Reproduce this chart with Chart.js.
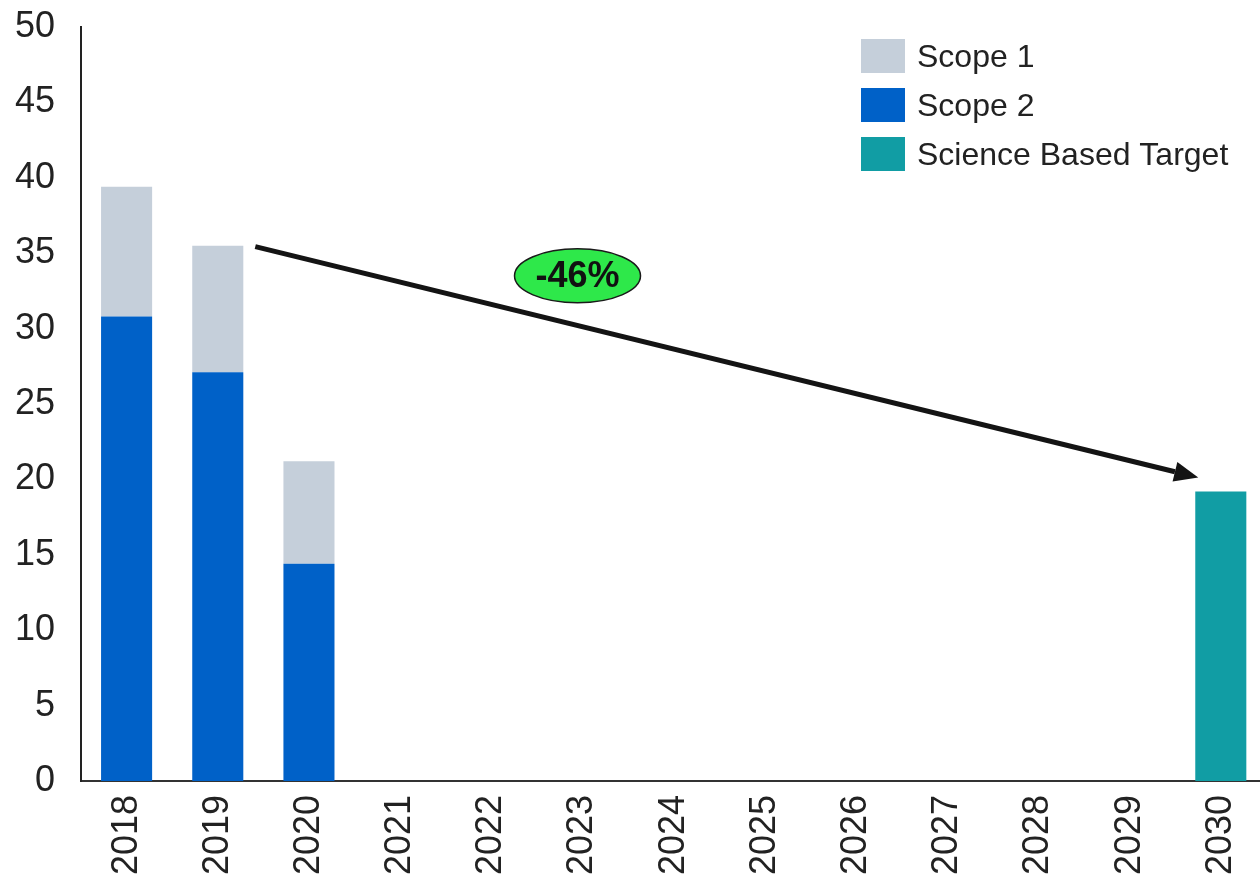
<!DOCTYPE html>
<html>
<head>
<meta charset="utf-8">
<title>Scope 1 &amp; 2 emissions</title>
<script src="https://cdn.jsdelivr.net/npm/chart.js@4"></script>
<style>
  html, body { margin:0; padding:0; background:#fff; overflow:hidden }
  #wrap { width:1260px; height:879px; overflow:hidden }
  canvas { display:block }
</style>
</head>
<body>
<div id="wrap"><canvas id="chart" width="1278" height="879"></canvas></div>
<script>
const years = ['2018','2019','2020','2021','2022','2023','2024','2025','2026','2027','2028','2029','2030'];
const scope1 = [8.6, 8.4, 6.8, null, null, null, null, null, null, null, null, null, null];
const scope2 = [30.8, 27.1, 14.4, null, null, null, null, null, null, null, null, null, null];
const target = [null, null, null, null, null, null, null, null, null, null, null, null, 19.2];
const yTicks = [0, 5, 10, 15, 20, 25, 30, 35, 40, 45, 50];
const reductionLabel = '-46%';

const FONT = '"Liberation Sans", Arial, sans-serif';
const INK = '#222';

// legend drawn as a vertical list in the top-right corner
const cornerLegend = {
  id: 'cornerLegend',
  afterDraw(chart) {
    const ctx = chart.ctx;
    const items = [chart.data.datasets[1], chart.data.datasets[0], chart.data.datasets[2]];
    ctx.save();
    ctx.font = '32px ' + FONT;
    ctx.textBaseline = 'middle';
    items.forEach((ds, i) => {
      const y = 39 + i * 49;
      ctx.fillStyle = ds.backgroundColor;
      ctx.fillRect(861, y, 44, 34);
      ctx.fillStyle = INK;
      ctx.fillText(ds.label, 917, y + 19);
    });
    ctx.restore();
  }
};

// arrow from the 2019 total down to the target bar, with the % badge
const reductionArrow = {
  id: 'reductionArrow',
  afterDatasetsDraw(chart) {
    const ctx = chart.ctx;
    const ys = chart.scales.y, xs = chart.scales.x;
    const from = chart.getDatasetMeta(0).data[1];
    const to = chart.getDatasetMeta(2).data[12];
    const x0 = from.x + from.width / 2 + 12;
    const y0 = ys.getPixelForValue(scope1[1] + scope2[1]) + 1;
    const x1 = to.x - to.width / 2 + 3;
    const y1 = ys.getPixelForValue(target[12]) - 14;
    const ang = Math.atan2(y1 - y0, x1 - x0);
    const headLen = 24, headHalf = 10;
    const bx = x1 - headLen * Math.cos(ang), by = y1 - headLen * Math.sin(ang);

    ctx.save();
    ctx.strokeStyle = '#141414';
    ctx.fillStyle = '#141414';
    ctx.lineWidth = 5;
    ctx.beginPath();
    ctx.moveTo(x0, y0);
    ctx.lineTo(bx, by);
    ctx.stroke();
    ctx.beginPath();
    ctx.moveTo(x1, y1);
    ctx.lineTo(bx + headHalf * Math.sin(ang), by - headHalf * Math.cos(ang));
    ctx.lineTo(bx - headHalf * Math.sin(ang), by + headHalf * Math.cos(ang));
    ctx.closePath();
    ctx.fill();

    // green badge
    const cx = xs.getPixelForValue(5) - 5;
    const cy = ys.getPixelForValue(33.5);
    ctx.beginPath();
    ctx.ellipse(cx, cy, 63, 27, 0, 0, Math.PI * 2);
    ctx.fillStyle = '#2EE84A';
    ctx.fill();
    ctx.lineWidth = 1.5;
    ctx.strokeStyle = '#1a1a1a';
    ctx.stroke();
    ctx.fillStyle = '#111';
    ctx.font = 'bold 36px ' + FONT;
    ctx.textAlign = 'center';
    ctx.textBaseline = 'middle';
    ctx.fillText(reductionLabel, cx, cy + 1);
    ctx.restore();
  }
};

new Chart(document.getElementById('chart'), {
  type: 'bar',
  data: {
    labels: years,
    datasets: [
      { label: 'Scope 2', data: scope2, backgroundColor: '#0061C8' },
      { label: 'Scope 1', data: scope1, backgroundColor: '#C5CFDA' },
      { label: 'Science Based Target', data: target, backgroundColor: '#119DA4' }
    ]
  },
  options: {
    responsive: false,
    animation: false,
    layout: { padding: { top: 27, right: 0, bottom: 0, left: 0 } },
    datasets: { bar: { barPercentage: 0.56, categoryPercentage: 1 } },
    plugins: { legend: { display: false }, tooltip: { enabled: false } },
    scales: {
      x: {
        stacked: true,
        grid: { display: false, drawTicks: false },
        border: { display: true, color: '#333', width: 2 },
        ticks: {
          autoSkip: false, minRotation: 90, maxRotation: 90, padding: 14,
          color: INK, font: { family: FONT, size: 36 }
        },
        afterFit(s) { s.height = 98; }
      },
      y: {
        stacked: true,
        min: 0, max: 50,
        afterBuildTicks(s) { s.ticks = yTicks.map(v => ({ value: v })); },
        grid: { display: false, drawTicks: false },
        border: { display: true, color: '#222', width: 2 },
        ticks: { padding: 26, color: INK, font: { family: FONT, size: 36 } },
        afterFit(s) { s.width = 81; s.paddingTop = 0; s.paddingBottom = 0; }
      }
    }
  },
  plugins: [reductionArrow, cornerLegend]
});
</script>
</body>
</html>
